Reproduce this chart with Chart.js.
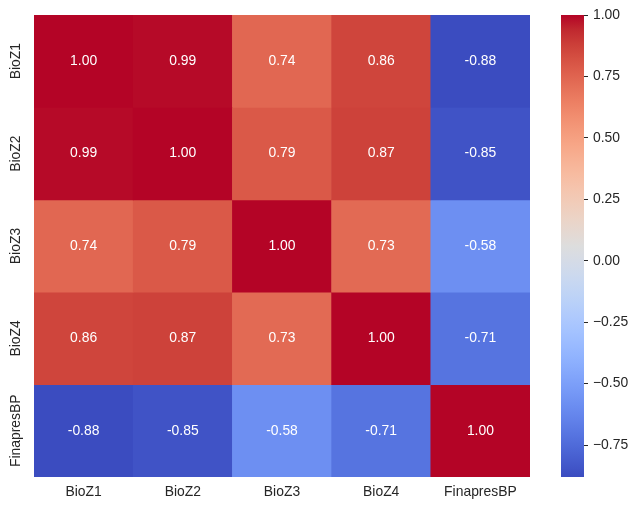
<!DOCTYPE html>
<html><head><meta charset="utf-8">
<script src="https://cdn.jsdelivr.net/npm/chart.js@4.4.1/dist/chart.umd.min.js"></script>
<style>
html,body{margin:0;padding:0;background:#fff;}
#wrap{position:relative;width:638px;height:511px;overflow:hidden;}
#main{position:absolute;left:0;top:0;width:540px;height:511px;}
#cbar{position:absolute;left:550px;top:0;width:88px;height:511px;}
</style></head><body>
<div id="wrap"><div id="main"><canvas id="c1"></canvas></div><div id="cbar"><canvas id="c2"></canvas></div></div>
<script>
// ---- data ----
const colLabels = ['BioZ1', 'BioZ2', 'BioZ3', 'BioZ4', 'FinapresBP'];
const rowLabels = ['BioZ1', 'BioZ2', 'BioZ3', 'BioZ4', 'FinapresBP'];
const rowBioZ1 = [1.00, 0.99, 0.74, 0.86, -0.88];
const rowBioZ2 = [0.99, 1.00, 0.79, 0.87, -0.85];
const rowBioZ3 = [0.74, 0.79, 1.00, 0.73, -0.58];
const rowBioZ4 = [0.86, 0.87, 0.73, 1.00, -0.71];
const rowFinapresBP = [-0.88, -0.85, -0.58, -0.71, 1.00];
const colorbarTicks = [-0.75, -0.50, -0.25, 0.00, 0.25, 0.50, 0.75, 1.00];
const vmin = -0.88, vmax = 1.00;

const matrix = [rowBioZ1, rowBioZ2, rowBioZ3, rowBioZ4, rowFinapresBP];

// coolwarm colormap table (33 points)
const CW = [
[59,76,192],[68,90,204],[77,104,215],[87,117,225],[98,130,234],[108,142,241],[119,154,247],[130,165,251],
[141,176,254],[152,185,255],[163,194,255],[174,201,253],[184,208,249],[194,213,244],[204,217,238],[213,219,230],
[221,221,221],[229,216,209],[236,211,197],[241,204,185],[245,196,173],[247,187,160],[247,177,148],[247,166,135],
[244,154,123],[241,141,111],[236,127,99],[229,112,88],[222,96,77],[213,80,66],[203,62,56],[192,40,47],[180,4,38]];
function coolwarm(t){
  t = Math.max(0, Math.min(1, t));
  const p = t * (CW.length - 1);
  const i = Math.min(Math.floor(p), CW.length - 2);
  const f = p - i;
  const c = CW[i].map((v, k) => Math.round(v + (CW[i+1][k] - v) * f));
  return `rgb(${c[0]},${c[1]},${c[2]})`;
}
const colorFor = v => coolwarm((v - vmin) / (vmax - vmin));

const FONT = '"Liberation Sans", Arial, sans-serif';
const FS = 13.9;
const TXT = '#262626';

const annotPlugin = {
  id: 'annot',
  afterDatasetsDraw(chart) {
    const ctx = chart.ctx;
    ctx.save();
    ctx.font = `${FS}px ${FONT}`;
    ctx.fillStyle = '#ffffff';
    ctx.textAlign = 'center';
    ctx.textBaseline = 'middle';
    chart.data.datasets.forEach((ds, i) => {
      const meta = chart.getDatasetMeta(i);
      meta.data.forEach((el, j) => {
        ctx.fillText(ds.values[j].toFixed(2), el.x, (el.y + el.base) / 2);
      });
    });
    ctx.restore();
  },
  afterDraw(chart) {
    const ctx = chart.ctx;
    const ys = chart.scales.y;
    ctx.save();
    ctx.font = `${FS}px ${FONT}`;
    ctx.fillStyle = TXT;
    ctx.textAlign = 'center';
    ctx.textBaseline = 'alphabetic';
    rowLabels.forEach((lab, i) => {
      const py = ys.getPixelForValue(i + 0.5);
      ctx.save();
      ctx.translate(19.5, py);
      ctx.rotate(-Math.PI / 2);
      ctx.fillText(lab, 0, 0);
      ctx.restore();
    });
    ctx.restore();
  }
};

new Chart(document.getElementById('c1'), {
  type: 'bar',
  data: {
    labels: colLabels,
    datasets: matrix.map((row, i) => ({
      label: rowLabels[i],
      data: row.map(() => 1),
      values: row,
      backgroundColor: row.map(colorFor),
      borderWidth: 0,
      barPercentage: 1,
      categoryPercentage: 1
    }))
  },
  options: {
    responsive: true,
    maintainAspectRatio: false,
    animation: false,
    layout: { padding: { left: 34, top: 15, right: 10, bottom: 0 } },
    plugins: { legend: { display: false }, tooltip: { enabled: false } },
    scales: {
      x: {
        stacked: true,
        grid: { display: false, drawTicks: false },
        border: { display: false },
        ticks: { color: TXT, font: { family: FONT, size: FS }, padding: 7, maxRotation: 0 },
        afterFit: s => { s.height = 34; }
      },
      y: {
        stacked: true, display: false, min: 0, max: 5, reverse: true
      }
    }
  },
  plugins: [annotPlugin]
});

new Chart(document.getElementById('c2'), {
  type: 'bar',
  data: {
    labels: [''],
    datasets: [{
      data: [[vmin, vmax]],
      borderWidth: 0,
      barPercentage: 1,
      categoryPercentage: 1,
      backgroundColor: (c) => {
        const ch = c.chart;
        if (!ch.chartArea) return 'transparent';
        const ys = ch.scales.y;
        const g = ch.ctx.createLinearGradient(0, ys.getPixelForValue(vmin), 0, ys.getPixelForValue(vmax));
        for (let k = 0; k < CW.length; k++) g.addColorStop(k / (CW.length - 1), coolwarm(k / (CW.length - 1)));
        return g;
      }
    }]
  },
  options: {
    responsive: true,
    maintainAspectRatio: false,
    animation: false,
    layout: { padding: { left: 11, top: 15, right: 0, bottom: 34 } },
    plugins: { legend: { display: false }, tooltip: { enabled: false } },
    scales: {
      x: { display: false },
      y: {
        position: 'right', min: vmin, max: vmax,
        afterBuildTicks: s => { s.ticks = colorbarTicks.map(v => ({ value: v })); },
        afterFit: s => { s.width = 54; },
        ticks: {
          color: TXT, font: { family: FONT, size: FS }, padding: 5, autoSkip: false,
          callback: v => Number(v).toFixed(2).replace('-', '\u2212')
        },
        grid: { drawOnChartArea: false, tickLength: 4, color: TXT, tickWidth: 1 },
        border: { display: false }
      }
    }
  }
});
</script>
</body></html>
